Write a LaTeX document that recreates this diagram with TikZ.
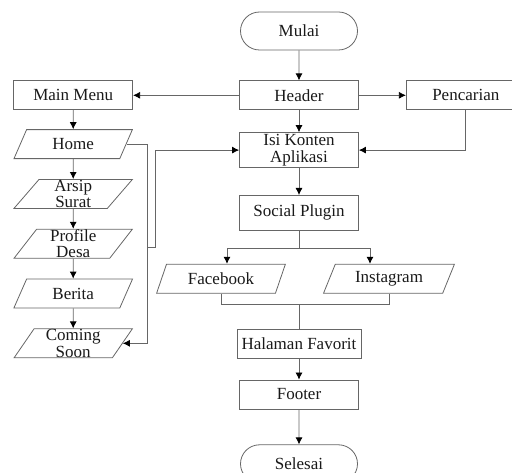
\documentclass[tikz,border=0pt]{standalone}
\usepackage{fontspec}
\setmainfont{Liberation Serif}
\usetikzlibrary{positioning,shapes.geometric,shapes.misc,arrows.meta}

\tikzset{
  box/.style={draw=black!60, line width=0.8pt, minimum width=119pt, minimum height=29pt,
    inner xsep=0.5pt, inner ysep=0pt, align=center, text=black!90},
  io/.style={box, trapezium, trapezium left angle=63, trapezium right angle=117,
    trapezium stretches=true},
  term/.style={box, rounded rectangle, minimum width=118pt, minimum height=38pt},
  arr/.style={draw=black!60, line width=0.8pt, -{Latex[length=7pt,width=7pt,color=black]}},
  line/.style={draw=black!60, line width=0.8pt}
}

\begin{document}
\begin{tikzpicture}[font=\fontsize{17}{16.5}\selectfont]
  \useasboundingbox (0,0) rectangle (512pt,-473pt);

  % Define nodes
  \node[term] (mulai) at (299pt,-31pt) {Mulai};
  \node[box, below=30pt of mulai] (header) {Header};
  \node[box, left=106pt of header] (menu) {Main Menu};
  \node[box, right=47pt of header] (cari) {Pencarian};
  \node[box, below=22pt of header, minimum height=35pt] (isi) {Isi Konten\\Aplikasi};
  \node[box, below=27pt of isi, minimum height=35pt] (social) {Social Plugin};
  \node[io, below=33pt of social, xshift=-78pt, minimum width=129pt] (fb) {Facebook};
  \node[io, below=33pt of social, xshift=90pt, minimum width=132pt] (ig) {Instagram};
  \node[box, below=98pt of social, minimum width=124pt] (fav) {Halaman Favorit};
  \node[box, below=21pt of fav] (footer) {Footer};
  \node[term, below=35pt of footer] (selesai) {Selesai};

  % Menu column
  \node[io, below=19pt of menu] (home) {Home};
  \node[io, below=20pt of home] (arsip) {Arsip\\Surat};
  \node[io, below=20pt of arsip] (profil) {Profile\\Desa};
  \node[io, below=20pt of profil] (berita) {Berita};
  \node[io, below=20pt of berita] (soon) {Coming\\Soon};

  % Helper points
  \path (home.east) ++(21pt,-103pt) coordinate (tap);
  \coordinate[below=18pt of social] (split);
  \path (fb.south) ++(0,-11pt) coordinate (fbdown);
  \coordinate (join) at (social |- fbdown);

  % Connect the nodes
  \draw[arr] (mulai) -- (header);
  \draw[arr] (header) -- (menu);
  \draw[arr] (header) -- (cari);
  \draw[arr] (header) -- (isi);
  \draw[arr] (cari) |- (isi);
  \draw[arr] (isi) -- (social);
  \draw[line] (social) -- (split);
  \draw[arr] (split) -| ([xshift=6pt]fb.north);
  \draw[arr] (split) -| ([xshift=-19pt]ig.north);
  \draw[line] (fb.south) |- (join) -| (ig.south);
  \draw[line] (join) -- (fav);
  \draw[arr] (fav) -- (footer);
  \draw[arr] (footer) -- (selesai);

  \draw[arr] (menu) -- (home);
  \draw[arr] (home) -- (arsip);
  \draw[arr] (arsip) -- (profil);
  \draw[arr] (profil) -- (berita);
  \draw[arr] (berita) -- (soon);
  \draw[arr] (home.east) -- ++(21pt,0) |- (soon.east);
  \draw[arr] (tap) -- ++(8pt,0) |- (isi.west);

\end{tikzpicture}
\end{document}
